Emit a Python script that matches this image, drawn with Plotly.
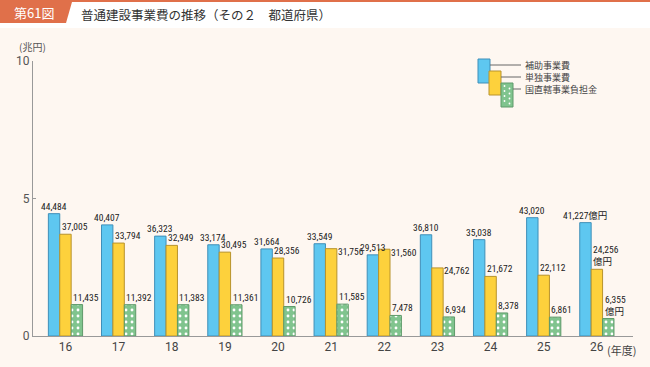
import plotly.graph_objects as go

years = ["16", "17", "18", "19", "20", "21", "22", "23", "24", "25", "26"]
hojo = [44484, 40407, 36323, 33174, 31664, 33549, 29513, 36810, 35038, 43020, 41227]
tandoku = [37005, 33794, 32949, 30495, 28356, 31756, 31560, 24762, 21672, 22112, 24256]
kuni = [11435, 11392, 11383, 11361, 10726, 11585, 7478, 6934, 8378, 6861, 6355]
series_names = ["補助事業費", "単独事業費", "国直轄事業負担金"]
yticks = [0, 5, 10]

# label placement style for the 単独 labels: True = right of the bar
yel_label_right = [False, False, False, False, False, True, True, True, False, False, False]

W, H = 650, 367
L, R, T, B = 33, 633, 61, 336
BG = "#fef7f1"
C_BLUE, C_BLUE_L = "#5ec7f0", "#3f8fb9"
C_YEL, C_YEL_L = "#fdd13c", "#b8932c"
C_GRN, C_GRN_L = "#80c48e", "#5f9a6a"
NUM_FONT = "Roboto Condensed, Liberation Sans Narrow, Arial Narrow, Roboto, Noto Sans CJK JP, sans-serif"
JP_FONT = "Noto Sans CJK JP, sans-serif"
LBL = 9.5

def px(x):
    return (x - L) / (R - L)

def py(y):
    return (B - y) / (B - T)

xs = list(range(len(years)))
bargap = 0.356
bw = (1 - bargap) / 3

fig = go.Figure()
fig.add_trace(go.Bar(x=xs, y=[v / 10000 for v in hojo], name=series_names[0],
                     marker=dict(color=C_BLUE, line=dict(color=C_BLUE_L, width=1))))
fig.add_trace(go.Bar(x=xs, y=[v / 10000 for v in tandoku], name=series_names[1],
                     marker=dict(color=C_YEL, line=dict(color=C_YEL_L, width=1))))
fig.add_trace(go.Bar(x=xs, y=[v / 10000 for v in kuni], name=series_names[2],
                     marker=dict(color=C_GRN, line=dict(color=C_GRN_L, width=1),
                                 pattern=dict(shape=".", fgcolor="white", bgcolor=C_GRN,
                                              size=6, solidity=0.18, fillmode="replace"))))

ann = []
last = len(years) - 1
for i in xs:
    tb = f"{hojo[i]:,}" + ("億円" if i == last else "")
    ty = f"{tandoku[i]:,}" + ("<br>億円" if i == last else "")
    tg = f"{kuni[i]:,}" + ("<br>億円" if i == last else "")
    ann.append(dict(x=i - bw, y=hojo[i] / 10000, text=tb, xref="x", yref="y",
                    xanchor="center", yanchor="bottom", showarrow=False,
                    font=dict(family=NUM_FONT, size=LBL, color="#222"), borderpad=0, yshift=1))
    if yel_label_right[i]:
        ann.append(dict(x=i + bw / 2, y=tandoku[i] / 10000, text=ty, xref="x", yref="y",
                        xanchor="left", yanchor="middle", showarrow=False, align="left",
                        font=dict(family=NUM_FONT, size=LBL, color="#222"), borderpad=0,
                        yshift=-3, xshift=0))
    else:
        ann.append(dict(x=i - bw / 2, y=tandoku[i] / 10000, text=ty, xref="x", yref="y",
                        xanchor="left", yanchor="bottom", showarrow=False, align="left",
                        font=dict(family=NUM_FONT, size=LBL, color="#222"), borderpad=0,
                        yshift=1, xshift=1))
    ann.append(dict(x=i + bw / 2, y=kuni[i] / 10000, text=tg, xref="x", yref="y",
                    xanchor="left", yanchor="bottom", showarrow=False, align="left",
                    font=dict(family=NUM_FONT, size=LBL, color="#222"), borderpad=0, yshift=1, xshift=1))

# axis captions
ann.append(dict(x=px(32), y=py(47), xref="paper", yref="paper", text="(兆円)", showarrow=False,
                xanchor="center", yanchor="middle", font=dict(family=JP_FONT, size=10, color="#555")))
ann.append(dict(x=px(605), y=py(350), xref="paper", yref="paper", text="(年度)", showarrow=False,
                xanchor="left", yanchor="middle", font=dict(family=JP_FONT, size=11, color="#444")))

# title
ann.append(dict(x=px(34), y=py(13), xref="paper", yref="paper", text="第61図", showarrow=False,
                xanchor="center", yanchor="middle", font=dict(family=JP_FONT, size=13, color="white")))
ann.append(dict(x=px(79), y=py(14), xref="paper", yref="paper",
                text="普通建設事業費の推移（その２　都道府県）", showarrow=False,
                xanchor="left", yanchor="middle", font=dict(family=JP_FONT, size=12.5, color="#333")))

shapes = []
# title band
shapes.append(dict(type="rect", xref="paper", yref="paper", x0=px(0), x1=px(W), y0=py(28), y1=py(0),
                   fillcolor="white", line=dict(width=0), layer="below"))
shapes.append(dict(type="rect", xref="paper", yref="paper", x0=px(0), x1=px(W), y0=py(2), y1=py(0),
                   fillcolor="#e0704a", line=dict(width=0)))
shapes.append(dict(type="path", xref="paper", yref="paper",
                   path=f"M {px(0)},{py(2)} L {px(72)},{py(2)} L {px(66)},{py(23)} L {px(0)},{py(23)} Z",
                   fillcolor="#e0704a", line=dict(width=0)))

# custom legend
leg = [
    (478, 490, 59, 83, C_BLUE, C_BLUE_L, 65),
    (489, 501, 71, 95, C_YEL, C_YEL_L, 77),
    (501, 513, 83, 107, C_GRN, C_GRN_L, 89),
]
for k, (x0, x1, y0, y1, fc, lc, ly) in enumerate(leg):
    shapes.append(dict(type="rect", xref="paper", yref="paper", x0=px(x0), x1=px(x1),
                       y0=py(y1), y1=py(y0), fillcolor=fc, line=dict(color=lc, width=1)))
    shapes.append(dict(type="line", xref="paper", yref="paper", x0=px(x1), x1=px(521),
                       y0=py(ly), y1=py(ly), line=dict(color="#666", width=1)))
    ann.append(dict(x=px(523), y=py(ly), xref="paper", yref="paper", text=series_names[k],
                    showarrow=False, xanchor="left", yanchor="middle", height=11, valign="middle",
                    font=dict(family=JP_FONT, size=9, color="#444")))
# dots on green legend box
for cx, off in ((504.5, 0), (509.5, 2.5)):
    for cy in (86, 91, 96, 101):
        shapes.append(dict(type="circle", xref="paper", yref="paper",
                           x0=px(cx - 0.9), x1=px(cx + 0.9), y0=py(cy + off + 0.9), y1=py(cy + off - 0.9),
                           fillcolor="white", line=dict(width=0)))

fig.update_layout(
    width=W, height=H,
    margin=dict(l=L, r=W - R, t=T, b=H - B),
    paper_bgcolor=BG, plot_bgcolor=BG,
    barmode="group", bargap=bargap, bargroupgap=0,
    showlegend=False,
    annotations=ann, shapes=shapes,
    xaxis=dict(range=[-0.611, 10.68], tickvals=xs, ticktext=years, showgrid=False,
               showline=True, linecolor="#999", linewidth=1, ticks="", zeroline=False,
               tickfont=dict(family="Roboto, sans-serif", size=12, color="#444")),
    yaxis=dict(range=[0, 10], tickvals=yticks, showgrid=False, showline=True,
               linecolor="#999", linewidth=1, ticks="inside", ticklen=3, tickcolor="#999",
               zeroline=False, tickfont=dict(family="Roboto, sans-serif", size=12, color="#555")),
)

fig.write_html("out.html", config={"displayModeBar": False},
               post_script="document.body.style.margin='0px';")
